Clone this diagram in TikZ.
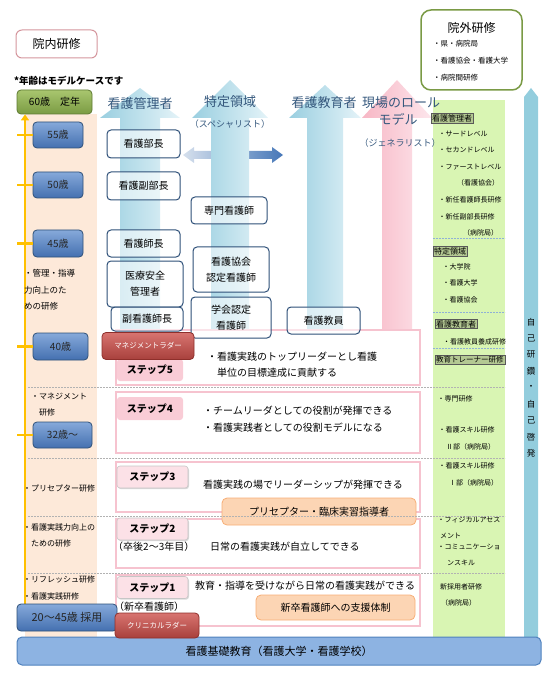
\documentclass[tikz,border=0pt]{standalone}
\usepackage{fontspec}
\setmainfont{Noto Sans CJK JP}
\usepackage{xcolor}
\usetikzlibrary{arrows.meta,shadows}

\definecolor{peachbg}{HTML}{FDE9D9}
\definecolor{greenbg}{HTML}{D9F5B3}
\definecolor{selfblue}{HTML}{93CDDD}
\definecolor{dblL}{HTML}{D6E0ED}
\definecolor{dblR}{HTML}{4677B8}
\definecolor{arrL}{HTML}{9ACFE0}
\definecolor{arrR}{HTML}{E4F3F8}
\definecolor{pinkL}{HTML}{F7B7C5}
\definecolor{pinkR}{HTML}{FDE6EC}
\definecolor{headc}{HTML}{35587D}
\definecolor{roleline}{HTML}{2E5078}
\definecolor{agetop}{HTML}{86A9DA}
\definecolor{agebot}{HTML}{4470B0}
\definecolor{teinentop}{HTML}{A9C66F}
\definecolor{teinenbot}{HTML}{7A9B43}
\definecolor{teinenline}{HTML}{5E7A32}
\definecolor{ladtop}{HTML}{D87470}
\definecolor{ladbot}{HTML}{A8403C}
\definecolor{ladline}{HTML}{8E2F2B}
\definecolor{stepline}{HTML}{F6C3CF}
\definecolor{steptabc}{HTML}{F9CCD6}
\definecolor{steptabl}{HTML}{FCE1E7}
\definecolor{orfill}{HTML}{FCD5B4}
\definecolor{orline}{HTML}{F7AE76}
\definecolor{gtagc}{HTML}{B4C893}
\definecolor{sepblue}{HTML}{8FB0D6}
\definecolor{innailine}{HTML}{D4959C}
\definecolor{ingailine}{HTML}{7A9A45}
\definecolor{barfill}{HTML}{8DB3E2}
\definecolor{barline}{HTML}{4F81BD}
\definecolor{yelc}{HTML}{FFC000}

\begin{document}
\begin{tikzpicture}[
  x=1pt,y=-1pt,
  >=Stealth,
  every node/.style={inner sep=1pt},
  rolebox/.style={draw=roleline,line width=1pt,rounded corners=4pt,fill=white,fill opacity=.55,text opacity=1,align=center,font=\fontsize{10}{16}\selectfont},
  agebox/.style={draw=roleline,line width=.8pt,rounded corners=4pt,top color=agetop,bottom color=agebot,text=black!85,font=\fontsize{10}{12}\selectfont},
  ladder/.style={draw=ladline,line width=.8pt,rounded corners=4pt,top color=ladtop,bottom color=ladbot,text=white,font=\fontsize{7.5}{9}\selectfont},
  stepframe/.style={draw=stepline,line width=2.5pt},
  steptab/.style={fill=steptabc,rounded corners=3pt,font=\bfseries\fontsize{10}{12}\selectfont},
  steptabs/.style={steptab,fill=steptabl,draw=gray!45,line width=.6pt,drop shadow={shadow xshift=1pt,shadow yshift=-1.2pt,fill=gray!60}},
  stxt/.style={font=\fontsize{10}{16}\selectfont,align=left,anchor=west},
  orangebox/.style={draw=orline,line width=.8pt,rounded corners=5pt,fill=orfill,font=\fontsize{10}{12}\selectfont},
  ltxt/.style={font=\fontsize{8.5}{16.5}\selectfont,align=left,anchor=west},
  gtxt/.style={font=\fontsize{7}{9}\selectfont,anchor=west},
  gtag/.style={draw=gray!70!black,fill=gtagc,font=\fontsize{8}{9}\selectfont,inner sep=1pt,anchor=west},
  headtxt/.style={text=headc,font=\fontsize{13}{15}\selectfont},
  subhead/.style={text=headc,font=\fontsize{9}{11}\selectfont},
  yeltick/.style={draw=yelc,line width=2.5pt},
  dashsep/.style={draw=gray!60,line width=.5pt,dash pattern=on 2pt off 1pt},
  gsep/.style={draw=sepblue,line width=.5pt,dash pattern=on 2pt off 1pt}
]
  \useasboundingbox (0,0) rectangle (550,692);

  % background columns
  \fill[peachbg] (25,114) rectangle (97,637);
  \fill[greenbg] (433,100) rectangle (505,637);
  \fill[selfblue] (524,637) -- (524,97) -- (531,88) -- (538,97) -- (538,637) -- cycle;

  % career arrows
  \shade[left color=dblL,right color=dblR] (183,155) -- (194,147) -- (194,151) -- (272,151) -- (272,147)
    -- (283,155) -- (272,163) -- (272,159) -- (194,159) -- (194,163) -- cycle;
  \foreach \cx/\sw/\hw/\ay in {140/20/40/88, 230/19/38/80, 325/18/36/85}
    \shade[left color=arrL,right color=arrR] (\cx-\sw,330) -- (\cx-\sw,118) -- (\cx-\hw,118) -- (\cx,\ay)
      -- (\cx+\hw,118) -- (\cx+\sw,118) -- (\cx+\sw,330) -- cycle;
  \shade[left color=pinkL,right color=pinkR] (382,330) -- (382,118) -- (362,118) -- (397,80)
    -- (432,118) -- (412,118) -- (412,330) -- cycle;

  \node[headtxt] (hKanri) at (140,104) {看護管理者};
  \node[headtxt] (hTokutei) at (230,102) {特定領域};
  \node[subhead] (hSpec) at (230,124) {（スペシャリスト）};
  \node[headtxt] (hKyoiku) at (324,103) {看護教育者};
  \node[headtxt] (hGenba) at (401,103) {現場のロール};
  \node[headtxt] (hModel) at (398,119) {モデル};
  \node[subhead] (hGene) at (400,143) {（ジェネラリスト）};

  % step frames
  \draw[stepframe] (116,330) rectangle (420,385);
  \draw[stepframe] (116,392) rectangle (420,453);
  \draw[stepframe] (116,462) rectangle (420,512);
  \draw[stepframe] (116,519) rectangle (420,568);
  \draw[stepframe] (116,575) rectangle (420,626);

  % posts
  \node[rolebox,minimum width=73pt,minimum height=28pt] (bucho) at (143.5,144) {看護部長};
  \node[rolebox,minimum width=73pt,minimum height=28pt] (fukubucho) at (143.5,186) {看護副部長};
  \node[rolebox,minimum width=73pt,minimum height=27pt] (shicho) at (143.5,243.5) {看護師長};
  \node[rolebox,minimum width=76pt,minimum height=46pt] (anzen) at (145,284) {医療安全\\管理者};
  \node[rolebox,minimum width=72pt,minimum height=24pt] (fukushicho) at (147,319) {副看護師長};
  \node[rolebox,minimum width=76pt,minimum height=27pt] (senmon) at (229,210.5) {専門看護師};
  \node[rolebox,minimum width=76pt,minimum height=45pt] (kyokai) at (231,269.5) {看護協会\\認定看護師};
  \node[rolebox,minimum width=80pt,minimum height=41pt] (gakkai) at (231,317.5) {学会認定\\看護師};
  \node[rolebox,minimum width=73pt,minimum height=27pt] (kyoin) at (323.5,320.5) {看護教員};

  % steps
  \node[steptab,minimum width=66pt,minimum height=22pt] (t5) at (150,370) {ステップ5};
  \node[stxt] (s5) at (206,365) {・看護実践のトップリーダーとし看護\\\hspace*{1em}単位の目標達成に貢献する};
  \node[steptab,minimum width=66pt,minimum height=23pt] (t4) at (150,408.5) {ステップ4};
  \node[stxt,font=\fontsize{10}{17}\selectfont] (s4) at (202,419.5) {・チームリーダとしての役割が発揮できる\\・看護実践者としての役割モデルになる};
  \node[steptabs,minimum width=71pt,minimum height=22pt] (t3) at (152.5,477) {ステップ3};
  \node[stxt] (s3) at (202,485) {看護実践の場でリーダーシップが発揮できる};
  \node[orangebox,minimum width=194pt,minimum height=27pt] (p3) at (319,511.5) {プリセプター・臨床実習指導者};
  \node[steptabs,minimum width=71pt,minimum height=22pt] (t2) at (152.5,529) {ステップ2};
  \node[stxt] (s2a) at (112,547) {（卒後2〜3年目）};
  \node[stxt] (s2b) at (209,547) {日常の看護実践が自立してできる};
  \node[steptabs,minimum width=71pt,minimum height=22pt] (t1) at (152.5,587.5) {ステップ1};
  \node[stxt] (s1a) at (194,586) {教育・指導を受けながら日常の看護実践ができる};
  \node[stxt] (s1b) at (113,607) {（新卒看護師）};
  \node[orangebox,minimum width=159pt,minimum height=25pt] (p1) at (335.5,607.5) {新卒看護師への支援体制};

  % separators
  \foreach \yy in {387,458,516,573}
    \draw[dashsep] (28,\yy) -- (505,\yy);
  \foreach \yy in {238,312,348}
    \draw[gsep] (433,\yy) -- (505,\yy);

  \node[ladder,minimum width=92pt,minimum height=27pt] (mgmt) at (148,346) {マネジメントラダー};

  % age column
  \node[draw=innailine,line width=1pt,rounded corners=6pt,minimum width=81pt,minimum height=28pt,font=\fontsize{12}{14}\selectfont] (innai) at (56.5,44) {院内研修};
  \node[anchor=west,font=\bfseries\fontsize{9.5}{11}\selectfont] (note) at (13,81) {*年齢はモデルケースです};
  \node[draw=teinenline,line width=.8pt,rounded corners=4pt,top color=teinentop,bottom color=teinenbot,minimum width=75pt,minimum height=24pt,font=\fontsize{10}{12}\selectfont] (teinen) at (54.5,102) {60歳\hspace{1em}定年};
  \node[agebox,minimum width=50pt,minimum height=26pt] (a55) at (58,135) {55歳};
  \node[agebox,minimum width=50pt,minimum height=26pt] (a50) at (58,185) {50歳};
  \node[agebox,minimum width=50pt,minimum height=27pt] (a45) at (58,243.5) {45歳};
  \node[agebox,minimum width=55pt,minimum height=27pt] (a40) at (60.5,346.5) {40歳};
  \node[agebox,minimum width=59pt,minimum height=26pt] (a32) at (62.5,435) {32歳〜};

  \coordinate (ybot) at (25,604);
  \draw[yeltick,-{Triangle[length=6pt,width=8pt]}] (ybot) -- (ybot |- teinen.south);
  \foreach \b in {a55,a50,a45,a40,a32}
    \draw[yeltick] (\b.west) -- ++(-16,0);

  \node[ltxt] (lKanri) at (23,290) {・管理・指導\\力向上のた\\めの研修};
  \node[ltxt,font=\fontsize{8}{16.5}\selectfont] (lMane) at (30,404.5) {・マネジメント\\\hspace*{1em}研修};
  \node[ltxt,font=\fontsize{8}{16}\selectfont] (lPre) at (22,488) {・プリセプター研修};
  \node[ltxt,font=\fontsize{8}{16}\selectfont] (lJissen) at (22,535) {・看護実践力向上の\\\hspace*{1em}ための研修};
  \node[ltxt,font=\fontsize{8}{17}\selectfont] (lRefre) at (22,587.5) {・リフレッシュ研修\\・看護実践研修};

  % outside training
  \node[draw=ingailine,line width=1.5pt,rounded corners=10pt,fill=white,minimum width=101pt,minimum height=80pt] (ingai) at (471.5,50) {};
  \node[font=\fontsize{12}{14}\selectfont] (ingaiT) at (471.5,28) {院外研修};
  \node[gtxt,font=\fontsize{7.5}{9}\selectfont] (ig1) at (432,44) {・県・病院局};
  \node[gtxt,font=\fontsize{7.5}{9}\selectfont] (ig2) at (432,61) {・看護協会・看護大学};
  \node[gtxt,font=\fontsize{7.5}{9}\selectfont] (ig3) at (432,78) {・病院間研修};

  % green column
  \node[gtag] (gKanri) at (431,118) {看護管理者};
  \node[gtxt] (g1) at (437.5,134) {・サードレベル};
  \node[gtxt] (g2) at (437.5,150) {・セカンドレベル};
  \node[gtxt] (g3) at (437.5,167) {・ファーストレベル};
  \node[gtxt] (g4) at (456,183) {（看護協会）};
  \node[gtxt] (g5) at (437.5,200) {・新任看護師長研修};
  \node[gtxt] (g6) at (437.5,217) {・新任副部長研修};
  \node[gtxt] (g7) at (462,233) {（病院局）};
  \node[gtag] (gTokutei) at (433,251) {特定領域};
  \node[gtxt] (g8) at (441.5,267) {・大学院};
  \node[gtxt] (g9) at (441.5,283) {・看護大学};
  \node[gtxt] (g10) at (441.5,300) {・看護協会};
  \node[gtag] (gKyoiku) at (435,324) {看護教育者};
  \node[gtxt] (g11) at (442,342) {・看護教員養成研修};
  \node[gtag,font=\fontsize{7.5}{9}\selectfont] (gTrainer) at (435,360) {教育トレーナー研修};
  \node[gtxt] (g12) at (436.5,399) {・専門研修};
  \node[gtxt] (g13) at (437.5,430) {・看護スキル研修};
  \node[gtxt] (g14) at (445,447) {Ⅱ部（病院局）};
  \node[gtxt] (g15) at (437.5,466) {・看護スキル研修};
  \node[gtxt] (g16) at (448,483) {Ⅰ部（病院局）};
  \node[gtxt] (g17) at (436.5,520) {・フィジカルアセス};
  \node[gtxt] (g18) at (439,536) {メント};
  \node[gtxt] (g19) at (436.5,547) {・コミュニケーショ};
  \node[gtxt] (g20) at (446,563) {ンスキル};
  \node[gtxt] (g21) at (439,587) {新採用者研修};
  \node[gtxt] (g22) at (440,603) {（病院局）};

  \foreach \c [count=\i] in {自,己,研,鑽,・,自,己,啓,発}
    \node[font=\fontsize{8.5}{10}\selectfont] (v\i) at (531,{322+16.4*(\i-1)}) {\c};

  % base
  \node[draw=barline,line width=1pt,rounded corners=5pt,fill=barfill,minimum width=524pt,minimum height=28pt,font=\fontsize{11}{13}\selectfont] (kiso) at (279,651) {看護基礎教育（看護大学・看護学校）};
  \node[agebox,minimum width=100pt,minimum height=27pt,font=\fontsize{11}{13}\selectfont] (a20) at (67,617.5) {20〜45歳 採用};
  \node[ladder,minimum width=84pt,minimum height=25pt] (clin) at (157,625.5) {クリニカルラダー};
\end{tikzpicture}
\end{document}
